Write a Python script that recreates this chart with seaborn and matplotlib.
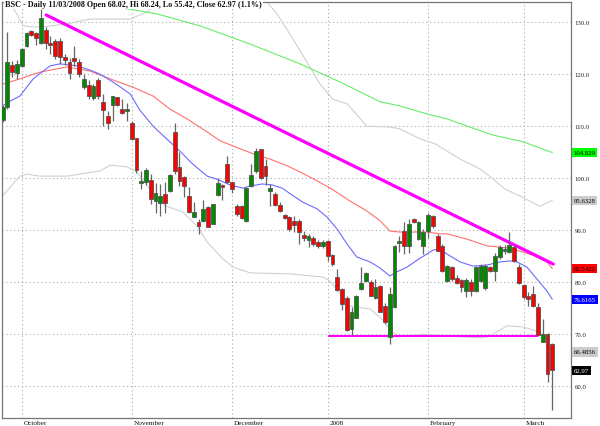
import numpy as np
import pandas as pd
import matplotlib
matplotlib.use("Agg")
import matplotlib.pyplot as plt
import matplotlib.transforms as mtransforms
import seaborn as sns

# ---------------- data ----------------
# daily candles, index 0 = 25 Sep 2007 ... index 115 = 11 Mar 2008
opens = [111.1, 113.6, 121.7, 120.1, 121.5, 125.3, 128.2, 127.8, 126.0, 128.5,
         125.9, 126.3, 126.2, 123.3, 122.3, 123.0, 122.2, 117.4, 117.8, 115.4,
         118.8, 114.6, 111.8, 114.0, 115.5, 113.3, 112.8, 110.5, 107.6, 99.0,
         99.2, 99.6, 95.6, 95.1, 96.8, 97.5, 108.7, 102.1, 100.1, 96.4,
         92.5, 91.5, 91.6, 94.3, 91.1, 96.7, 98.6, 102.6, 99.1, 94.6,
         94.5, 91.7, 98.5, 101.2, 105.5, 102.3, 97.5, 96.9, 94.75, 92.8,
         92.4, 91.6, 91.7, 89.0, 88.1, 88.5, 87.7, 86.8, 87.9, 85.1,
         81.0, 78.6, 76.8, 71.0, 73.1, 78.6, 80.2, 79.9, 76.8, 79.2,
         75.3, 69.3, 75.1, 87.4, 89.8, 86.8, 92.05, 88.2, 86.9, 89.8,
         92.7, 88.85, 86.9, 80.2, 82.8, 80.65, 80.3, 78.3, 80.0, 78.3,
         80.1, 78.7, 82.8, 82.1, 84.7, 86.0, 85.8, 86.6, 82.8, 79.4,
         77.2, 77.6, 75.1, 68.5, 70.0, 68.02]
highs = [114.0, 128.0, 122.5, 122.6, 125.0, 128.1, 128.5, 128.0, 132.4, 128.9,
         127.2, 126.6, 126.8, 123.8, 123.1, 125.4, 122.9, 120.0, 118.7, 118.0,
         119.1, 116.1, 112.9, 115.8, 115.5, 115.2, 114.3, 110.9, 107.7, 101.3,
         101.9, 100.7, 98.9, 98.7, 99.2, 100.7, 110.6, 104.9, 100.3, 98.2,
         95.3, 92.1, 95.7, 94.6, 94.95, 100.0, 98.8, 104.2, 99.2, 94.9,
         94.7, 98.2, 102.6, 105.65, 105.6, 103.6, 98.8, 97.3, 95.3, 93.0,
         92.7, 92.7, 92.0, 89.8, 89.2, 88.85, 88.0, 88.0, 88.0, 85.4,
         82.4, 78.8, 77.2, 75.1, 77.4, 82.8, 81.8, 80.4, 80.5, 79.3,
         76.0, 78.9, 87.0, 88.85, 91.5, 92.0, 92.2, 91.7, 90.2, 93.2,
         92.9, 89.2, 87.2, 83.3, 83.1, 81.2, 80.6, 80.8, 80.5, 83.1,
         83.5, 83.4, 83.0, 85.5, 87.0, 87.1, 89.5, 87.0, 83.4, 79.6,
         78.0, 79.1, 76.0, 72.8, 70.2, 68.24]
lows = [110.8, 113.3, 119.3, 119.0, 121.2, 125.1, 127.2, 125.5, 125.7, 124.75,
        123.8, 122.9, 121.9, 121.7, 119.0, 121.4, 119.3, 117.1, 115.2, 115.0,
        115.1, 110.0, 109.4, 111.0, 113.8, 112.2, 110.9, 107.2, 101.0, 97.8,
        98.6, 94.9, 93.3, 92.6, 93.3, 97.3, 100.7, 98.4, 96.2, 93.3,
        92.4, 89.2, 91.5, 90.5, 91.1, 96.5, 95.8, 98.9, 97.0, 92.7,
        92.1, 91.4, 98.3, 101.0, 99.7, 98.6, 94.6, 94.6, 93.4, 92.0,
        89.8, 89.5, 87.3, 87.9, 86.6, 86.9, 86.5, 86.5, 84.0, 83.1,
        78.2, 74.6, 70.6, 69.6, 73.0, 78.4, 80.0, 77.2, 76.7, 74.1,
        71.9, 68.0, 74.9, 85.65, 85.3, 85.5, 91.2, 88.0, 85.3, 88.5,
        90.3, 85.9, 81.9, 80.0, 80.2, 79.5, 77.95, 77.0, 77.3, 78.0,
        79.9, 78.5, 81.8, 80.2, 84.4, 85.3, 85.6, 83.8, 79.5, 76.6,
        75.4, 75.1, 69.6, 68.35, 60.7, 55.42]
closes = [113.6, 122.2, 120.3, 121.9, 124.7, 127.8, 127.5, 126.9, 130.8, 126.0,
          125.6, 123.5, 123.3, 122.7, 120.1, 122.4, 119.9, 119.0, 115.8, 117.6,
          115.8, 113.1, 110.6, 115.7, 114.0, 112.4, 113.3, 107.4, 101.5, 99.4,
          101.5, 96.0, 97.0, 96.5, 95.1, 100.5, 101.3, 99.4, 98.5, 93.5,
          93.4, 90.8, 93.9, 90.5, 94.95, 99.0, 98.2, 99.1, 97.8, 93.0,
          92.2, 98.0, 100.5, 105.2, 99.9, 100.4, 98.0, 94.75, 93.65, 92.2,
          90.1, 90.9, 89.5, 88.35, 88.85, 87.2, 86.9, 87.7, 85.0, 83.4,
          78.4, 75.7, 70.8, 74.2, 77.2, 79.7, 81.6, 77.3, 78.9, 74.2,
          72.2, 77.6, 86.8, 87.7, 86.8, 91.1, 91.4, 91.4, 89.6, 92.8,
          90.8, 86.0, 82.1, 83.0, 80.5, 79.75, 78.9, 80.3, 78.3, 82.8,
          83.1, 83.0, 82.0, 84.9, 86.6, 86.3, 87.1, 84.0, 79.75, 77.0,
          76.7, 75.4, 69.75, 70.0, 62.3, 62.97]

month_days = [4, 27, 48, 68, 89, 109]
month_labels = ["October", "November", "December", "2008", "February", "March"]

blue_days = [0, 0.9, 3.6, 6.4, 9.9, 12.0, 15.6, 18.3, 20.4, 23.1, 26.7, 28.7, 31.5, 34.4,
             37.1, 39.8, 42.8, 44.9, 47.6, 50.3, 51.8, 54.3, 56.4, 58.5, 60.5, 62.8,
             65.8, 67.9, 70.0, 72.1, 74.1, 76.9, 79.0, 81.0, 82.5, 84.6, 87.3, 90.1,
             91.5, 93.0, 95.7, 98.4, 101.3, 104.0, 106.1, 107.6, 109.7, 111.8, 113.9, 115]
blue_vals = [113.8, 114.4, 115.7, 119.0, 121.5, 121.9, 121.5, 120.7, 119.9, 118.4, 116.1,
             113.0, 109.9, 107.4, 105.1, 102.6, 100.3, 99.7, 98.6, 98.0, 98.4, 98.8, 98.6,
             98.0, 96.7, 95.3, 94.0, 92.4, 90.1, 87.2, 84.75, 83.8, 82.6, 81.1, 81.9, 82.8,
             84.5, 86.1, 86.3, 85.3, 83.8, 83.0, 83.2, 83.8, 84.0, 83.8, 82.8, 80.5, 78.2,
             76.6165]

red_days = [0, 3.6, 7.8, 13.5, 18.3, 22.5, 27.3, 31.5, 35.0, 38.6, 42.8, 45.5, 48.2, 52.4,
            55.9, 59.5, 62.2, 65.8, 68.9, 72.7, 76.2, 79.0, 81.0, 83.1, 85.9, 88.8, 91.5,
            93.0, 97.1, 101.3, 105.5, 108.2, 110.9, 113.9, 115]
red_vals = [118.0, 119.0, 120.3, 121.3, 120.5, 119.0, 117.4, 115.7, 113.2, 111.3, 108.8,
            107.1, 106.1, 104.6, 103.6, 102.3, 101.1, 99.4, 97.8, 95.5, 93.6, 91.7, 89.75,
            89.55, 89.55, 89.55, 89.2, 89.2, 88.2, 86.9, 86.5, 85.9, 85.1, 83.8, 82.5422]

green_days = [14.1, 17.3, 26.7, 32.3, 41.3, 51.8, 62.2, 70.6, 79.0, 83.1, 88.8, 93.0,
              97.1, 102.6, 108.9, 115]
green_vals = [134.2, 133.4, 132.4, 131.5, 129.2, 125.7, 121.9, 118.4, 114.6, 113.8, 112.25,
              111.3, 109.95, 108.2, 106.9, 104.829]

upper_days = [0, 1.5, 2.6, 4.3, 6.4, 8.5, 13.5, 18.3, 22.5, 26.7, 30.2, 32.9, 36.1, 51.8,
              55.3, 57.4, 60.1, 63.3, 66.4, 69.1, 72.1, 76.2, 81.0, 83.1, 87.3, 90.5,
              95.7, 99.9, 102.6, 105.1, 108.2, 112.4, 115]
upper_vals = [134.4, 133.4, 132.1, 129.2, 129.0, 129.0, 129.6, 130.5, 130.5, 130.5, 131.9,
              133.8, 137.0, 137.0, 133.8, 131.5, 127.6, 122.8, 118.0, 115.1, 114.2, 109.9,
              109.75, 109.4, 107.5, 106.5, 103.6, 101.7, 99.75, 97.8, 96.5, 94.5, 95.6328]

lower_days = [0, 3.6, 5.1, 7.8, 13.5, 16.2, 20.4, 22.5, 26.0, 28.1, 30.8, 34.0, 37.7, 40.7,
              42.8, 46.1, 48.2, 51.8, 60.1, 67.0, 68.5, 72.7, 76.9, 80.0, 81.0, 83.1, 87.9,
              99.9, 101.9, 105.5, 108.9, 112.4, 113.9, 115]
lower_vals = [96.5, 100.3, 100.7, 100.3, 100.3, 100.7, 101.3, 102.4, 102.1, 101.1, 97.8,
              94.6, 93.4, 90.7, 87.6, 84.4, 82.8, 81.7, 81.5, 80.9, 80.1, 75.3, 74.75, 72.25,
              70.5, 69.5, 69.9, 69.2, 69.5, 71.5, 71.3, 70.3, 69.0, 66.4856]

trend_days = [9.1, 115.2]
trend_vals = [131.3, 83.4]
support_days = [68.3, 111.8]
support_vals = [69.5, 69.5]

ytick_vals = [60, 70, 80, 90, 100, 110, 120, 130]

label_vals = [104.829, 95.6328, 82.5422, 76.6165, 66.4856, 62.97]
label_texts = ["104.829", "95.6328", "82.5422", "76.6165", "66.4856", "62.97"]
label_bg = ["#00ff00", "#cccccc", "#ff0000", "#0000ff", "#cccccc", "#000000"]
label_fg = ["#000000", "#000000", "#000000", "#ffffff", "#000000", "#ffffff"]

title = "BSC - Daily 11/03/2008 Open 68.02, Hi 68.24, Lo 55.42, Close 62.97 (1.1%)"

# ---------------- figure ----------------
sns.set_style("white")
plt.rcParams["font.family"] = ["Liberation Serif", "DejaVu Serif"]

fig = plt.figure(figsize=(6.0, 4.27), dpi=100)
ax = fig.add_axes([2 / 600, 8 / 427, 569 / 600, 416 / 427])

days = np.arange(len(closes))
o = np.array(opens); c = np.array(closes); h = np.array(highs); l = np.array(lows)

def line(dd, vv, color, lw, z):
    df = pd.DataFrame({"d": dd, "v": vv})
    sns.lineplot(data=df, x="d", y="v", ax=ax, color=color, linewidth=lw,
                 zorder=z, estimator=None, sort=False)

line(upper_days, upper_vals, "#d0d0d0", 0.8, 1.5)
line(lower_days, lower_vals, "#d0d0d0", 0.8, 1.5)
line(green_days, green_vals, "#66ee66", 0.8, 1.6)
line(red_days, red_vals, "#ff7070", 0.8, 1.6)
line(blue_days, blue_vals, "#6b6bff", 0.8, 1.7)
line(trend_days, trend_vals, "#ff00ff", 2.3, 1.8)
line(support_days, support_vals, "#ff00ff", 1.5, 1.8)

# candles
ax.vlines(days, l, h, color="#666666", linewidth=0.9, zorder=2)
body_low = np.minimum(o, c)
body_h = np.maximum(np.abs(c - o), 0.35)
cols = np.where(c >= o, "#008a00", "#ff0000")
ax.bar(days, body_h, bottom=body_low, width=0.8, color=cols,
       edgecolor="#555555", linewidth=0.6, zorder=3)

ax.set_xlim(-0.126, 118.91)
ax.set_ylim(53.79, 133.79)
ax.set_xlabel(""); ax.set_ylabel("")

ax.set_yticks(ytick_vals)
ax.set_yticklabels([f"{v:.1f}" for v in ytick_vals])
ax.set_xticks(month_days)
ax.set_xticklabels([])
ax.grid(True, color="#aaaaaa", linestyle=(0, (1, 2.5)), linewidth=0.8)
ax.yaxis.tick_right()
ax.tick_params(axis="y", length=0, pad=2.5, labelsize=4.9, labelcolor="#222222")
ax.tick_params(axis="x", length=3.6, width=0.8, color="#555555", direction="out")

for s in ax.spines.values():
    s.set_color("#777777")
    s.set_linewidth(0.9)
    s.set_visible(True)

trans = mtransforms.blended_transform_factory(ax.transData, ax.transAxes)
for d, t in zip(month_days, month_labels):
    ax.text(d + 0.35, -0.004, t, transform=trans, ha="left", va="top",
            fontsize=5.2, color="#111111")

trans_r = mtransforms.blended_transform_factory(ax.transAxes, ax.transData)
for v, t, bg, fg in zip(label_vals, label_texts, label_bg, label_fg):
    ax.text(1.0045, v, t, transform=trans_r, ha="left", va="center", fontsize=4.9,
            color=fg, clip_on=False, zorder=6,
            bbox=dict(boxstyle="square,pad=0.3", fc=bg, ec="none"))

ax.text(0.006, 1 - 2 / 416, title, transform=ax.transAxes, ha="left", va="center",
        fontsize=5.9, fontweight="bold", color="#111111", zorder=6,
        bbox=dict(boxstyle="square,pad=0.15", fc="white", ec="none"))

fig.savefig("out.png", dpi=100)
